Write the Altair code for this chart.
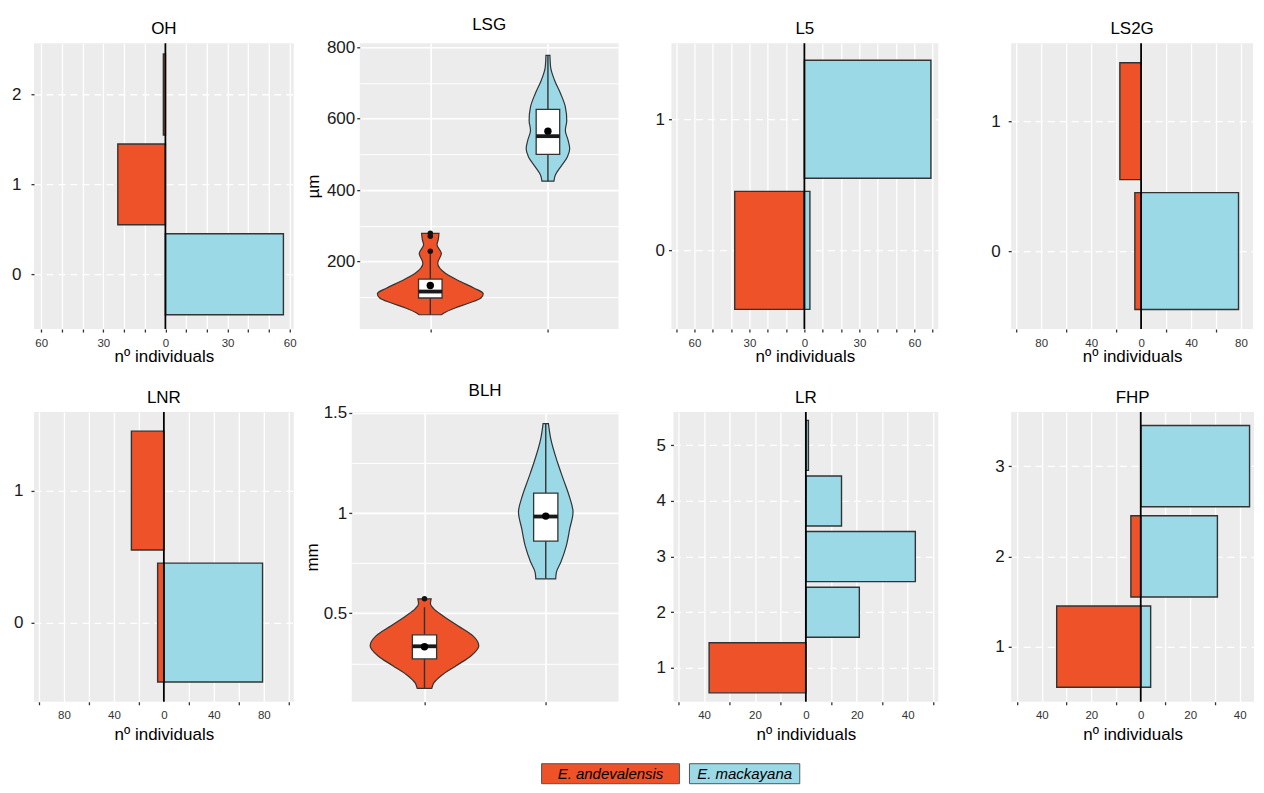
import altair as alt
import pandas as pd

FONT = "Liberation Sans"
ORANGE = "#EE5229"
BLUE = "#9CD9E7"
BG = "#EBECEB"
EDGE = "#333333"

species = ["E. andevalensis", "E. mackayana"]
xtitle = "nº individuals"

# ---------- bar panels (counts per level: andevalensis left, mackayana right)
OH_levels = [0, 1, 2]
OH_and = [0, 23, 1]
OH_mac = [57, 0, 0]

L5_levels = [0, 1]
L5_and = [38, 0]
L5_mac = [3, 69]

LS2G_levels = [0, 1]
LS2G_and = [5, 17]
LS2G_mac = [78, 0]

LNR_levels = [0, 1]
LNR_and = [5, 26]
LNR_mac = [79, 0]

LR_levels = [1, 2, 3, 4, 5]
LR_and = [38, 0, 0, 0, 0]
LR_mac = [0, 21, 43, 14, 1]

FHP_levels = [1, 2, 3]
FHP_and = [34, 4, 0]
FHP_mac = [4, 31, 44]

# ---------- violin outlines (value, half-width in category units)
LSG_and_y = [51, 58, 70, 84, 98, 110, 126, 144, 167, 195, 223, 247, 262, 279]
LSG_and_hw = [0.094, 0.128, 0.21, 0.33, 0.43, 0.45, 0.37, 0.256, 0.128, 0.063, 0.094, 0.057, 0.068, 0.074]
LSG_mac_y = [425, 442, 465, 493, 516, 540, 567, 595, 633, 670, 707, 744, 777]
LSG_mac_hw = [0.051, 0.063, 0.108, 0.165, 0.185, 0.171, 0.148, 0.16, 0.148, 0.108, 0.057, 0.023, 0.017]

BLH_and_y = [0.125, 0.152, 0.188, 0.238, 0.288, 0.338, 0.388, 0.438, 0.488, 0.522, 0.547, 0.572]
BLH_and_hw = [0.06, 0.077, 0.137, 0.261, 0.385, 0.448, 0.398, 0.275, 0.151, 0.077, 0.049, 0.055]
BLH_mac_y = [0.672, 0.705, 0.755, 0.838, 0.922, 1.005, 1.088, 1.172, 1.255, 1.372, 1.447]
BLH_mac_hw = [0.082, 0.088, 0.124, 0.17, 0.198, 0.225, 0.192, 0.143, 0.096, 0.041, 0.022]

# box stats: [lower whisker, q1, median, q3, upper whisker, mean]
LSG_and_box = [51, 98, 116, 151, 222, 133]
LSG_mac_box = [425, 500, 551, 626, 777, 565]
LSG_and_out = [229, 271, 279]
BLH_and_box = [0.125, 0.272, 0.335, 0.392, 0.53, 0.333]
BLH_mac_box = [0.672, 0.86, 0.983, 1.1, 1.447, 0.985]
BLH_and_out = [0.572]

color_enc = alt.Color("species:N", scale=alt.Scale(domain=species, range=[ORANGE, BLUE]), legend=None)
VIEW = alt.ViewBackground(fill=BG, stroke=None)


def panel_title(t):
    return alt.TitleParams(t, fontSize=17, fontWeight="normal", font=FONT, color="black",
                           offset=-9, baseline="alphabetic", anchor="middle")


def bar_panel(name, levels, left, right, xdom, ydom, width, height, step, lab_every,
              hide_tick_every, ylab_pad, xtitle_pad):
    rows = []
    for lv, c in zip(levels, left):
        if c:
            rows.append({"level": lv, "species": species[0], "n": -c})
    for lv, c in zip(levels, right):
        if c:
            rows.append({"level": lv, "species": species[1], "n": c})
    df = pd.DataFrame(rows)
    lo = -int(abs(xdom[0]) // step) * step
    hi = int(xdom[1] // step) * step
    xvals = list(range(lo, hi + 1, step))
    if hide_tick_every:
        tick_op = {"condition": {"test": f"datum.value % {hide_tick_every} === 0", "value": 0}, "value": 1}
    else:
        tick_op = 1
    xaxis = alt.Axis(values=xvals, labelExpr=f"datum.value % {lab_every} === 0 ? '' + abs(datum.value) : ''",
                     title=xtitle, titleFontSize=17, titleFontWeight="normal", titlePadding=xtitle_pad,
                     titleColor="black", labelFontSize=11.5, labelColor="#333", labelPadding=5,
                     labelFlush=False, labelOverlap=False,
                     tickSize=3, tickColor=EDGE, tickWidth=1.3, tickOpacity=tick_op,
                     domain=False, grid=True, gridColor="white", gridWidth=1.3)
    yaxis = alt.Axis(values=levels, format="d", title=None, labelFontSize=17, labelColor="#1a1a1a",
                     labelPadding=ylab_pad, tickSize=3, tickColor=EDGE, tickWidth=1.3, domain=False,
                     grid=True, gridColor="white", gridWidth=1.3, gridDash=[7, 5])
    xscale = alt.Scale(domain=xdom, nice=False, zero=False)
    yscale = alt.Scale(domain=ydom, nice=False, zero=False)
    bars = alt.Chart(df).transform_calculate(
        y0="datum.level - 0.45", y1="datum.level + 0.45", zero="0"
    ).mark_rect(stroke=EDGE, strokeWidth=1.4).encode(
        x=alt.X("n:Q", scale=xscale, axis=xaxis),
        x2="zero:Q",
        y=alt.Y("y0:Q", scale=yscale, axis=yaxis),
        y2="y1:Q",
        color=color_enc,
    )
    zl = alt.Chart(pd.DataFrame({"zero": [0]})).mark_rule(color="black", strokeWidth=1.8).encode(
        x=alt.X("zero:Q", scale=xscale, axis=xaxis)
    )
    return alt.layer(bars, zl).properties(width=width, height=height, title=panel_title(name), view=VIEW)


def violin_panel(name, unit, and_y, and_hw, mac_y, mac_hw, and_box, mac_box, and_out,
                 ydom, yvals, major_test, width, height, ytitle_pad):
    vrows = [{"species": species[0], "pos": 1, "y": y, "hw": h} for y, h in zip(and_y, and_hw)]
    vrows += [{"species": species[1], "pos": 2, "y": y, "hw": h} for y, h in zip(mac_y, mac_hw)]
    vdf = pd.DataFrame(vrows)
    keys = ["lo", "q1", "med", "q3", "hi", "mean"]
    bdf = pd.DataFrame([dict(zip(keys, and_box), species=species[0], pos=1),
                        dict(zip(keys, mac_box), species=species[1], pos=2)])
    odf = pd.DataFrame({"pos": [1] * len(and_out), "y": and_out})

    xscale = alt.Scale(domain=[0.4, 2.6], nice=False, zero=False)
    yscale = alt.Scale(domain=ydom, nice=False, zero=False)
    xaxis = alt.Axis(values=[1, 2], labels=False, ticks=True, tickSize=3, tickColor=EDGE, tickWidth=1.3,
                     domain=False, grid=True, gridColor="white", gridWidth=1.6, title=None)
    yaxis = alt.Axis(values=yvals, title=unit, titleFontSize=17, titleFontWeight="normal", titleColor="black",
                     titlePadding=ytitle_pad,
                     labelExpr=f"({major_test}) ? format(datum.value, '~g') : ''",
                     labelFontSize=17, labelColor="#1a1a1a", labelPadding=2,
                     tickSize=3, tickColor=EDGE, tickWidth=1.3,
                     tickOpacity={"condition": {"test": major_test, "value": 1}, "value": 0},
                     domain=False, grid=True, gridColor="white",
                     gridWidth={"condition": {"test": major_test, "value": 1.6}, "value": 1.0})

    def X(f):
        return alt.X(f, scale=xscale, axis=xaxis)

    def Y(f):
        return alt.Y(f, scale=yscale, axis=yaxis)

    violin = alt.Chart(vdf).transform_calculate(
        xl="datum.pos - datum.hw", xr="datum.pos + datum.hw"
    ).mark_area(orient="horizontal", interpolate="monotone", stroke=EDGE, strokeWidth=1.2, opacity=1).encode(
        y=Y("y:Q"), x=X("xl:Q"), x2="xr:Q", color=color_enc, detail="species:N"
    )
    base = alt.Chart(bdf).transform_calculate(bl="datum.pos - 0.1", br="datum.pos + 0.1")
    whisker = base.mark_rule(color=EDGE, strokeWidth=1.4).encode(x=X("pos:Q"), y=Y("lo:Q"), y2="hi:Q")
    box = base.mark_rect(fill="white", stroke=EDGE, strokeWidth=1.3).encode(
        x=X("bl:Q"), x2="br:Q", y=Y("q1:Q"), y2="q3:Q")
    med = base.mark_rule(color="#1a1a1a", strokeWidth=3.8).encode(x=X("bl:Q"), x2="br:Q", y=Y("med:Q"))
    outl = alt.Chart(odf).mark_point(filled=True, color="#111", size=30, opacity=1).encode(
        x=X("pos:Q"), y=Y("y:Q"))
    mean = base.mark_point(filled=True, color="black", size=55, opacity=1).encode(x=X("pos:Q"), y=Y("mean:Q"))
    return alt.layer(violin, whisker, box, med, outl, mean).properties(
        width=width, height=height, title=panel_title(name), view=VIEW)


H1 = 286
H2 = 290

OH = bar_panel("OH", OH_levels, OH_and, OH_mac, [-63.5, 62], [-0.61, 2.57], 260, H1, 10, 30, None, 10, 0)
LSG = violin_panel("LSG", "µm", LSG_and_y, LSG_and_hw, LSG_mac_y, LSG_mac_hw, LSG_and_box, LSG_mac_box,
                   LSG_and_out, [11, 811], [100, 200, 300, 400, 500, 600, 700, 800],
                   "datum.value % 200 === 0", 259, H1, 4)
L5 = bar_panel("L5", L5_levels, L5_and, L5_mac, [-72.5, 73], [-0.6, 1.58], 267, H1, 10, 30, None, 4, 0)
LS2G = bar_panel("LS2G", LS2G_levels, LS2G_and, LS2G_mac, [-104, 89.6], [-0.6, 1.6], 242, H1, 20, 40, 40, 8, 0)

LNR = bar_panel("LNR", LNR_levels, LNR_and, LNR_mac, [-104, 104], [-0.6, 1.595], 260, H2, 20, 40, 40, 8, 5)
BLH = violin_panel("BLH", "mm", BLH_and_y, BLH_and_hw, BLH_mac_y, BLH_mac_hw, BLH_and_box, BLH_mac_box,
                   BLH_and_out, [0.058, 1.505], [0.25, 0.5, 0.75, 1, 1.25, 1.5],
                   "abs(datum.value * 2 - round(datum.value * 2)) < 0.001", 267, H2, 2)
LR = bar_panel("LR", LR_levels, LR_and, LR_mac, [-52, 52], [0.39, 5.6], 265, H2, 10, 20, 20, 5, 5)
FHP = bar_panel("FHP", FHP_levels, FHP_and, FHP_mac, [-52.4, 45.8], [0.39, 3.6], 243, H2, 10, 20, 20, 4, 5)

row1 = alt.hconcat(alt.hconcat(alt.hconcat(OH, LSG, spacing=7), L5, spacing=36), LS2G, spacing=52)
row2 = alt.hconcat(alt.hconcat(alt.hconcat(LNR, BLH, spacing=9), LR, spacing=37), FHP, spacing=56)

# legend: boxes sized from label length, centred under the panels
LEG_W = 1223
leg_df = pd.DataFrame({"species": species})
leg_base = alt.Chart(leg_df).transform_calculate(
    w="length(datum.species) * 9.2"
).transform_window(
    cum="sum(w)", rn="row_number()", frame=[None, 0]
).transform_calculate(
    x1="datum.cum + (datum.rn - 1) * 10", x0="datum.cum + (datum.rn - 1) * 10 - datum.w",
    xm="datum.cum + (datum.rn - 1) * 10 - datum.w / 2"
)
leg_scale = alt.Scale(domain=[-508, LEG_W - 508], nice=False, zero=False)
leg_box = leg_base.mark_rect(stroke="#555", strokeWidth=1).encode(
    x=alt.X("x0:Q", scale=leg_scale, axis=None), x2="x1:Q", color=color_enc)
leg_txt = leg_base.mark_text(fontStyle="italic", fontSize=15, font=FONT, color="black").encode(
    x=alt.X("xm:Q", scale=leg_scale, axis=None), text="species:N")
legend = alt.layer(leg_box, leg_txt).properties(width=LEG_W, height=20,
                                                view=alt.ViewBackground(fill=None, stroke=None))

chart = alt.vconcat(alt.vconcat(row1, row2, spacing=17), legend, spacing=20).properties(
    padding={"left": 3, "top": 7, "right": 0, "bottom": 0}
).configure(font=FONT, background="white").configure_view(stroke=None)

chart.save("out.html", embed_options={"renderer": "svg", "actions": False})
